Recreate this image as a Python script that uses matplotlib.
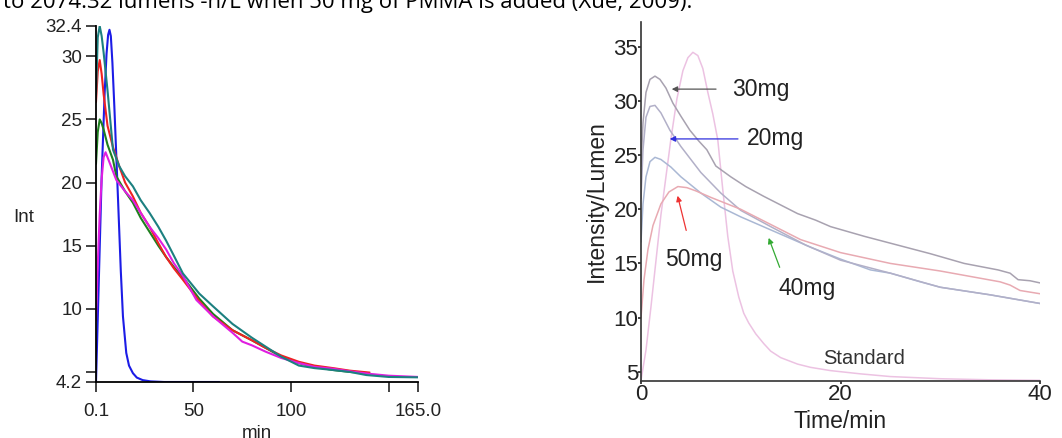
import matplotlib.pyplot as plt

# --- left panel data (min vs Int) ---
left_teal_x = [0.1, 1, 2, 3, 4, 6, 8.8, 12, 15, 19, 23, 27.5, 32, 36, 40, 44.6, 53, 60, 70, 80, 87, 95, 104, 112, 121.5, 130, 138.6, 150, 165]
left_teal_y = [27.0, 31.5, 32.4, 31.6, 30.3, 27.3, 22.6, 21.3, 20.5, 19.7, 18.6, 17.6, 16.5, 15.4, 14.2, 12.8, 11.2, 10.2, 8.8, 7.7, 7.0, 6.2, 5.5, 5.3, 5.15, 5.0, 4.75, 4.6, 4.57]

left_blue_x = [0.1, 1.5, 3, 4.5, 5.5, 6.3, 7, 7.7, 8.5, 9.5, 11.4, 12.8, 13.9, 15.6, 17, 19, 21, 24, 28, 35, 63]
left_blue_y = [4.2, 12.0, 20.5, 27.0, 30.2, 31.7, 32.1, 31.6, 29.5, 26.0, 18.6, 13.0, 9.4, 6.5, 5.5, 4.9, 4.55, 4.35, 4.25, 4.2, 4.2]

left_red_x = [0.1, 1, 2, 3, 4, 6, 8.8, 12, 15, 19, 23, 27.5, 32, 36, 40, 44.6, 53, 60, 70, 80, 87, 95, 104, 112, 121.5, 130, 140]
left_red_y = [26.4, 28.8, 29.7, 28.6, 27.0, 24.5, 22.8, 21.3, 20.0, 18.9, 17.6, 16.5, 15.2, 14.1, 13.2, 12.3, 10.6, 9.4, 8.3, 7.5, 6.9, 6.3, 5.8, 5.5, 5.3, 5.1, 4.95]

left_green_x = [0.1, 1, 2, 3, 4, 6, 8.8, 10.5, 15, 19, 23, 27.5, 32, 36, 40, 44.6, 53, 60, 70, 80, 87, 95, 104, 112, 121.5, 130, 140]
left_green_y = [21.5, 24.0, 25.0, 24.7, 24.2, 23.0, 21.8, 20.5, 19.3, 18.4, 17.2, 16.1, 15.0, 14.1, 13.3, 12.5, 10.8, 9.6, 8.3, 7.5, 6.9, 6.2, 5.7, 5.4, 5.15, 5.0, 4.9]

left_mag_x = [0.1, 1, 2, 3, 4, 5, 6, 8, 10.5, 15, 19, 23, 27.5, 32, 36, 40, 44.6, 51.5, 60, 70, 75, 80, 87, 95, 104, 112, 121.5, 130, 140, 150, 165]
left_mag_y = [9.1, 13.5, 17.5, 20.3, 22.0, 22.4, 22.0, 21.2, 20.2, 19.3, 18.6, 17.6, 16.5, 15.6, 14.7, 13.6, 12.6, 10.7, 9.4, 8.1, 7.4, 7.1, 6.6, 6.1, 5.7, 5.4, 5.25, 5.05, 4.85, 4.7, 4.6]

left_xticks = [0.1, 50, 100, 150, 165]
left_xticklabels = ["0.1", "50", "100", "", "165.0"]
left_yticks = [4.2, 5, 10, 15, 20, 25, 30, 32.4]
left_yticklabels = ["4.2", "", "10", "15", "20", "25", "30", "32.4"]

# --- right panel data (Time/min vs Intensity/Lumen) ---
mg30_x = [0, 0.2, 0.5, 0.9, 1.4, 1.9, 2.5, 3.2, 4, 4.9, 5.8, 6.6, 7.5, 9, 10.5, 12.3, 14, 15.7, 17.5, 19, 22.4, 25.7, 29, 32.4, 35.8, 37, 37.8, 39, 40]
mg30_y = [24.0, 28.0, 30.8, 32.0, 32.3, 32.0, 31.2, 29.8, 28.6, 27.3, 26.3, 25.5, 24.0, 23.0, 22.1, 21.2, 20.4, 19.6, 19.0, 18.4, 17.5, 16.7, 15.9, 15.0, 14.4, 14.1, 13.5, 13.4, 13.2]

mg20_x = [0, 0.2, 0.5, 0.9, 1.4, 2, 2.9, 4, 5, 6, 8, 10, 13, 16.5, 20, 25, 30, 35, 40]
mg20_y = [21.0, 25.5, 28.5, 29.5, 29.6, 28.9, 27.3, 25.8, 24.6, 23.4, 21.5, 19.9, 18.4, 16.7, 15.3, 14.1, 12.8, 12.1, 11.3]

mg50_x = [0, 0.3, 0.7, 1.2, 2, 2.8, 3.7, 4.6, 5.5, 7, 10, 13, 16, 20, 25, 30, 33, 36, 37, 38, 40]
mg50_y = [10.0, 13.5, 16.3, 18.5, 20.5, 21.6, 22.1, 22.0, 21.7, 21.1, 20.0, 18.6, 17.2, 16.0, 15.0, 14.3, 13.8, 13.3, 13.0, 12.5, 12.2]

mg40_x = [0, 0.2, 0.5, 0.9, 1.4, 2, 3, 4, 6, 8, 10, 13, 17, 20, 23, 25, 28, 30, 35, 40]
mg40_y = [17.0, 20.5, 23.0, 24.4, 24.8, 24.6, 23.9, 23.0, 21.5, 20.2, 19.3, 18.1, 16.5, 15.4, 14.4, 14.1, 13.3, 12.8, 12.1, 11.3]

std_x = [0, 0.5, 1, 2, 3, 3.6, 4.2, 4.7, 5.2, 5.7, 6.2, 6.7, 7.2, 7.7, 8.2, 8.7, 9.2, 9.8, 10.3, 10.8, 11.5, 12.3, 13, 14, 15.7, 17, 19, 22, 25, 30, 35, 40]
std_y = [4.2, 7.0, 11.0, 19.5, 26.5, 30.2, 32.8, 34.0, 34.5, 34.2, 33.0, 30.8, 28.8, 26.4, 21.8, 17.5, 14.3, 11.9, 10.4, 9.5, 8.5, 7.6, 6.9, 6.3, 5.7, 5.4, 5.1, 4.8, 4.55, 4.35, 4.25, 4.2]

right_xticks = [0, 20, 40]
right_yticks = [5, 10, 15, 20, 25, 30, 35]

plt.rcParams['font.family'] = ['Liberation Sans', 'DejaVu Sans']
fig = plt.figure(figsize=(10.62, 4.38), dpi=100)
W, H = 1062, 438

def px_axes(x0, y_top, x1, y_bot):
    return fig.add_axes([x0 / W, 1 - y_bot / H, (x1 - x0) / W, (y_bot - y_top) / H])

# caption line cut off at the top, as in the scanned page
fig.text(0.003, 1 - 8 / H, "to 2074.32 lumens -h/L when 50 mg of PMMA is added (Xue, 2009).",
         fontsize=16, family="Open Sans", va="baseline", ha="left", color="black")

# left panel
ax1 = px_axes(96, 26, 418, 382)
ax1.plot(left_blue_x, left_blue_y, color="#1c1ce6", lw=1.5)
ax1.plot(left_green_x, left_green_y, color="#1e7f1e", lw=1.5)
ax1.plot(left_red_x, left_red_y, color="#ee2222", lw=1.5)
ax1.plot(left_mag_x, left_mag_y, color="#e01ee0", lw=1.5)
ax1.plot(left_teal_x, left_teal_y, color="#1c8080", lw=1.5)
ax1.set_xlim(0.1, 165)
ax1.set_ylim(4.2, 32.4)
ax1.set_xticks(left_xticks)
ax1.set_xticklabels(left_xticklabels)
ax1.set_yticks(left_yticks)
ax1.set_yticklabels(left_yticklabels)
ax1.spines["top"].set_visible(False)
ax1.spines["right"].set_visible(False)
for s in ("left", "bottom"):
    ax1.spines[s].set_linewidth(1.3)
ax1.tick_params(direction="out", length=7, width=1.2, labelsize=13.5, colors="#222222")
ax1.tick_params(axis="x", pad=8)
ax1.tick_params(axis="y", pad=3)
ax1.set_xlabel("min", fontsize=13.5, labelpad=4, color="#222222")
fig.text(13 / W, 1 - 217 / H, "Int", fontsize=13.5, color="#222222", va="center", ha="left")

# right panel
ax2 = px_axes(641, 22, 1040, 381)
ax2.plot(std_x, std_y, color="#ecc2e2", lw=1.1)
ax2.plot(mg40_x, mg40_y, color="#aab8d4", lw=1.1)
ax2.plot(mg20_x, mg20_y, color="#b2b0c8", lw=1.1)
ax2.plot(mg50_x, mg50_y, color="#e8aab2", lw=1.1)
ax2.plot(mg30_x, mg30_y, color="#a8a2b0", lw=1.1)
ax2.set_xlim(0, 40)
ax2.set_ylim(4.14, 37.3)
ax2.set_xticks(right_xticks)
ax2.set_yticks(right_yticks)
ax2.spines["top"].set_visible(False)
ax2.spines["right"].set_visible(False)
for s in ("left", "bottom"):
    ax2.spines[s].set_linewidth(1.2)
    ax2.spines[s].set_color("#333333")
ax2.tick_params(direction="out", length=2, width=1.2, labelsize=16, colors="#222222", pad=0)
ax2.set_xlabel("Time/min", fontsize=16.5, labelpad=4, color="#222222")
ax2.set_ylabel("Intensity/Lumen", fontsize=16.5, labelpad=4, color="#222222")

def note(text, xy, xytext, tx, ty, color):
    ax2.annotate("", xy=xy, xytext=xytext,
                 arrowprops=dict(arrowstyle="-|>", color=color, lw=0.9, mutation_scale=8))
    ax2.text(tx, ty, text, fontsize=16.5, color="#222222", va="center", ha="left")

note("30mg", (2.8, 31.1), (7.8, 31.1), 9.1, 31.1, "#555555")
note("20mg", (2.6, 26.5), (10.0, 26.5), 10.6, 26.5, "#3030dd")
note("50mg", (3.6, 21.5), (4.6, 17.8), 2.4, 15.4, "#ee3333")
note("40mg", (12.7, 17.6), (14.0, 14.4), 13.8, 12.7, "#33aa33")
ax2.text(22.4, 6.2, "Standard", fontsize=14.5, color="#333333", ha="center", va="center")

fig.savefig("out.png", dpi=100)
